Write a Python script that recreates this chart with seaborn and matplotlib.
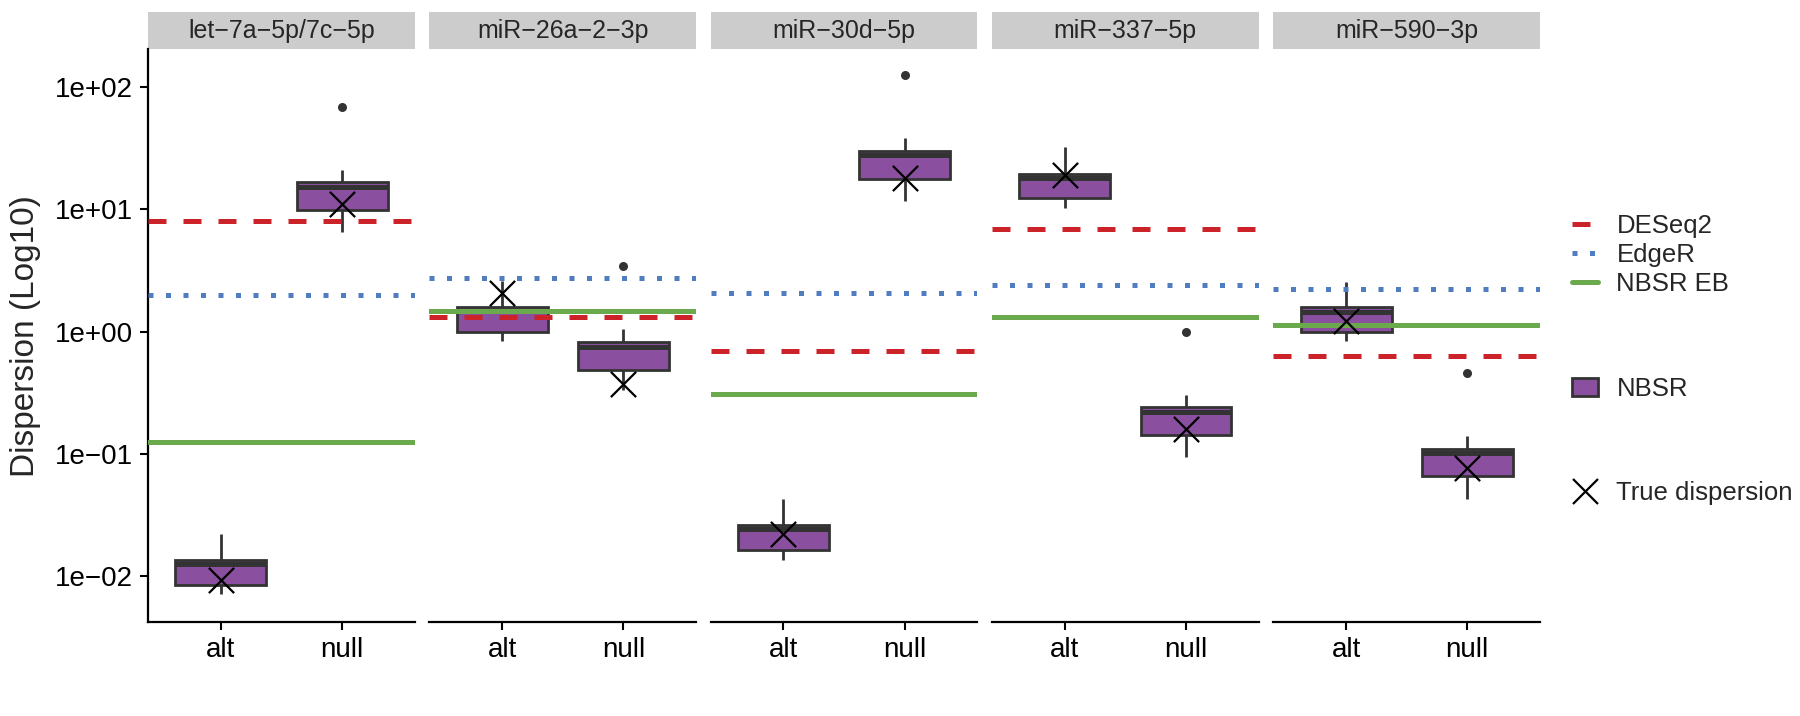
import numpy as np
import pandas as pd
import matplotlib.pyplot as plt
import seaborn as sns
from matplotlib.lines import Line2D
from matplotlib.patches import Patch, Rectangle
from matplotlib.ticker import NullLocator

# values (log10 axis)
mirnas = ['let-7a-5p/7c-5p', 'miR-26a-2-3p', 'miR-30d-5p', 'miR-337-5p', 'miR-590-3p']
hyps = ['alt', 'null']

# NBSR boxes: whisker low, Q1, median, Q3, whisker high
alt_low = [0.0071, 0.84, 0.0135, 10.3, 0.83]
alt_q1 = [0.0085, 1.0, 0.0163, 12.4, 0.99]
alt_med = [0.0125, 1.48, 0.0244, 18.1, 1.45]
alt_q3 = [0.0135, 1.60, 0.0262, 19.5, 1.58]
alt_high = [0.022, 2.6, 0.043, 32.2, 2.55]

null_low = [6.5, 0.33, 11.6, 0.095, 0.043]
null_q1 = [9.8, 0.486, 17.5, 0.142, 0.0655]
null_med = [15.3, 0.75, 27.6, 0.222, 0.102]
null_q3 = [16.6, 0.826, 30.1, 0.240, 0.110]
null_high = [21.0, 1.05, 38.2, 0.303, 0.140]
null_outlier = [69.0, 3.42, 124.0, 1.0, 0.46]

true_alt = [0.0094, 2.05, 0.022, 19.0, 1.21]
true_null = [11.1, 0.375, 17.9, 0.159, 0.0765]

deseq2 = [8.0, 1.31, 0.70, 6.86, 0.63]
edger = [1.99, 2.75, 2.06, 2.38, 2.22]
nbsr_eb = [0.126, 1.47, 0.311, 1.32, 1.14]

purple = '#8A4F9F'
red = '#CC2229'
blue = '#4F7DBF'
green = '#6AAA4C'

rows = []
for i, m in enumerate(mirnas):
    for v in [alt_low[i], alt_q1[i], alt_med[i], alt_q3[i], alt_high[i]]:
        rows.append((m, 'alt', v))
    for v in [null_low[i], null_q1[i], null_med[i], null_q3[i], null_high[i]]:
        rows.append((m, 'null', v))
df = pd.DataFrame(rows, columns=['mirna', 'hyp', 'disp'])
out_df = pd.DataFrame({'mirna': mirnas, 'hyp': 'null', 'disp': null_outlier})
true_df = pd.DataFrame({'mirna': mirnas * 2, 'hyp': ['alt'] * 5 + ['null'] * 5,
                        'disp': true_alt + true_null})

sns.set_style('ticks')
plt.rcParams['font.family'] = ['Liberation Sans', 'DejaVu Sans']

fig, axes = plt.subplots(1, 5, figsize=(18, 7.16), dpi=100, sharey=True)
fig.subplots_adjust(left=0.0822, right=0.8556, top=0.931, bottom=0.1314, wspace=0.0543)

strip_h = 37 / 572.6
for i, (ax, m) in enumerate(zip(axes, mirnas)):
    sns.boxplot(data=df[df.mirna == m], x='hyp', y='disp', order=hyps, ax=ax,
                log_scale=True, whis=(0, 100), width=0.75, color=purple, saturation=1,
                linecolor='#333333', linewidth=2, showcaps=False,
                medianprops={'linewidth': 3.6, 'color': '#333333'}, zorder=1)
    sns.stripplot(data=out_df[out_df.mirna == m], x='hyp', y='disp', order=hyps, ax=ax,
                  jitter=False, color='#333333', size=6.5, zorder=2)
    ax.axhline(deseq2[i], color=red, lw=3.6, ls=(0, (3.6, 3.4)), dash_capstyle='butt', zorder=3)
    ax.axhline(edger[i], color=blue, lw=3.6, ls=(0, (1.0, 2.5)), dash_capstyle='butt', zorder=3)
    ax.axhline(nbsr_eb[i], color=green, lw=3.6, zorder=3)
    sns.scatterplot(data=true_df[true_df.mirna == m], x='hyp', y='disp', ax=ax, marker='x',
                    s=330, color='black', linewidth=1.6, zorder=5, legend=False)

    ax.set_xlim(-0.6, 1.6)
    ax.set_ylim(10 ** -2.373, 10 ** 2.306)
    ax.set_xlabel('')
    ax.set_ylabel('')
    ax.tick_params(axis='x', labelsize=20, length=6, width=1.5, pad=5, colors='black')
    ax.spines['bottom'].set_linewidth(1.6)
    ax.spines['bottom'].set_color('black')
    sns.despine(ax=ax)
    if i > 0:
        ax.spines['left'].set_visible(False)
        ax.tick_params(axis='y', which='both', left=False, labelleft=False)

    ax.add_patch(Rectangle((0, 1), 1, strip_h, transform=ax.transAxes, facecolor='#cccccc',
                           edgecolor='none', clip_on=False))
    ax.text(0.5, 1 + strip_h / 2, m.replace('-', '\u2212'), transform=ax.transAxes,
            ha='center', va='center', fontsize=18)

ax0 = axes[0]
ax0.set_yticks([1e-2, 1e-1, 1e0, 1e1, 1e2])
ax0.set_yticklabels(['1e\u221202', '1e\u221201', '1e+00', '1e+01', '1e+02'])
ax0.yaxis.set_minor_locator(NullLocator())
ax0.tick_params(axis='y', labelsize=20, length=6, width=1.5, pad=5, colors='black')
ax0.spines['left'].set_linewidth(1.6)
ax0.spines['left'].set_color('black')
ax0.set_ylabel('Dispersion (Log10)', fontsize=24, labelpad=10)

leg_kw = dict(loc='center left', frameon=False, fontsize=18.5, handlelength=1.03,
              handletextpad=0.7, labelspacing=0.2, borderpad=0, borderaxespad=0)
line_handles = [
    Line2D([], [], color=red, lw=3.6, ls=(0, (3.6, 3.4)), dash_capstyle='butt'),
    Line2D([], [], color=blue, lw=3.6, ls=(0, (1.0, 2.5)), dash_capstyle='butt'),
    Line2D([], [], color=green, lw=3.6),
]
fig.legend(handles=line_handles, labels=['DESeq2', 'EdgeR', 'NBSR EB'],
           bbox_to_anchor=(1572 / 1800, 1 - 255 / 716), **leg_kw)
fig.legend(handles=[Patch(facecolor=purple, edgecolor='#333333', lw=2)], labels=['NBSR'],
           bbox_to_anchor=(1572 / 1800, 1 - 389 / 716), **leg_kw)
fig.legend(handles=[Line2D([], [], marker='x', ls='none', color='black', markersize=18, mew=1.6)],
           labels=['True dispersion'], bbox_to_anchor=(1572 / 1800, 1 - 493 / 716), **leg_kw)

plt.savefig('out.png', dpi=100)
